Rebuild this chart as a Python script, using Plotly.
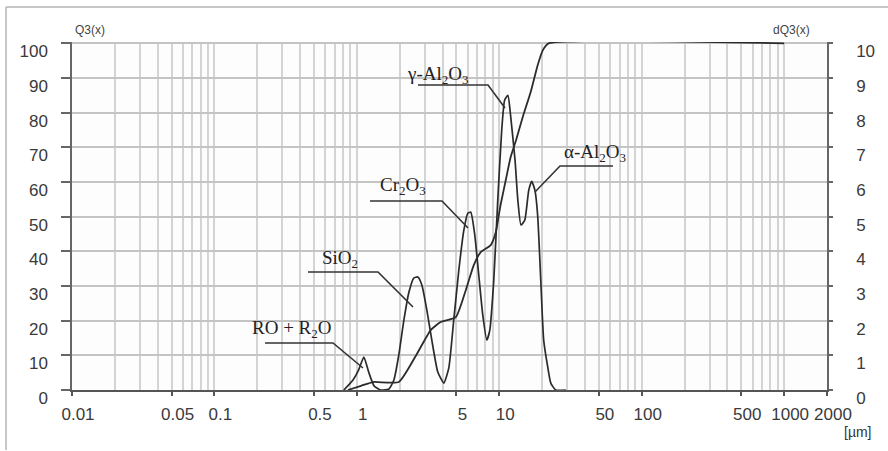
import plotly.graph_objects as go

# Particle size (µm) and cumulative distribution Q3 (%)
size_cum = [0.865, 1.07, 1.30, 1.97, 2.59, 3.30, 3.88, 4.95, 5.82, 6.62, 7.41, 8.71,
            9.45, 10.2, 11.1, 12.0, 13.1, 14.6, 16.6, 18.6, 20.2, 22.2, 1000]
q3_cum = [0, 1.2, 2.3, 2.3, 9.8, 17.3, 19.6, 21.0, 28.8, 36.0, 39.8, 41.8,
          45.5, 53.3, 60.5, 67.1, 72.0, 78.7, 85.9, 93.7, 98.0, 100, 100]

# Particle size (µm) and density distribution dQ3
size_dens = [0.81, 0.94, 1.03, 1.12, 1.21, 1.32, 1.47, 1.68, 1.82, 1.97,
             2.14, 2.32, 2.51, 2.68, 2.86, 3.10, 3.36, 3.70, 4.08, 4.42,
             4.79, 5.20, 5.64, 6.01, 6.31, 6.73, 7.18, 7.66, 8.18, 8.58,
             9.15, 9.76, 10.4, 10.9, 11.5, 12.0, 12.9, 13.5, 14.2, 15.1,
             16.1, 16.9, 17.8, 18.6, 19.6, 20.5, 21.9, 23.0, 24.9, 29.3]
dq3 = [0, 0.29, 0.58, 0.95, 0.52, 0.12, 0, 0.03, 0.29, 1.01,
       2.02, 2.82, 3.23, 3.26, 3.03, 2.31, 1.44, 0.52, 0.2, 0.63,
       2.02, 3.46, 4.61, 5.10, 5.13, 4.47, 3.31, 2.16, 1.44, 1.73,
       3.17, 5.48, 7.49, 8.36, 8.50, 7.93, 6.63, 5.48, 4.76, 4.90,
       5.76, 6.02, 5.76, 5.04, 3.08, 1.44, 0.66, 0.2, 0, 0]

# Axis ticks
x_tickvals = [0.01, 0.05, 0.1, 0.5, 1, 5, 10, 50, 100, 500, 1000, 2000]
x_ticktext = ["0.01", "0.05", "0.1", "0.5", "1", "5", "10", "50", "100", "500", "1000", "2000"]
x_gridvals = [m * 10 ** e for e in range(-2, 4) for m in range(1, 10) if m * 10 ** e <= 2000]
y_left_ticks = list(range(0, 101, 10))
y_right_ticks = list(range(0, 11))

W, H = 888, 451
L, R, T, B = 72, 61, 42, 61
PW, PH = W - L - R, H - T - B
# a little headroom above 100 % so the plateau of the cumulative curve is not clipped
Y_TOP = 100.4


def paper(px, py):
    """Convert a page position in pixels to paper coordinates."""
    return (px - L) / PW, (H - B - py) / PH


def sub(s):
    return f"<sub><span style='font-size:13px'>{s}</span></sub>"


LINE = "#2b2b2b"
fig = go.Figure()
fig.add_trace(go.Scatter(x=size_cum, y=q3_cum, mode="lines", yaxis="y",
                         line=dict(color=LINE, width=1.8, shape="spline", smoothing=0.5),
                         showlegend=False, hoverinfo="skip"))
fig.add_trace(go.Scatter(x=size_dens, y=dq3, mode="lines", yaxis="y2",
                         line=dict(color=LINE, width=1.7, shape="spline", smoothing=0.5),
                         showlegend=False, hoverinfo="skip"))

# Component labels with leader lines
NB = "\u00a0"
labels = [
    (f"RO{NB}+{NB}R{sub(2)}O", (292, 329), [(265, 343), (333, 343), (363, 368)]),
    (f"SiO{sub(2)}", (340, 259), [(308, 272), (378, 272), (413, 307)]),
    (f"Cr{sub(2)}O{sub(3)}", (403, 186), [(370, 201), (442, 201), (468, 228)]),
    (f"γ-Al{sub(2)}O{sub(3)}", (437, 75), [(418, 85), (488, 85), (505, 108)]),
    (f"α-Al{sub(2)}O{sub(3)}", (595, 153), [(613, 166), (560, 166), (535, 192)]),
]
annotations = []
shapes = []
for text, (cx, cy), pts in labels:
    ax_, ay_ = paper(cx, cy)
    annotations.append(dict(text=text, x=ax_, y=ay_, xref="paper", yref="paper",
                            showarrow=False, xanchor="center", yanchor="middle",
                            font=dict(family="Liberation Serif", size=19, color="#222")))
    path = ""
    for i, (px, py) in enumerate(pts):
        qx, qy = paper(px, py)
        path += ("M" if i == 0 else "L") + f"{qx},{qy} "
    shapes.append(dict(type="path", path=path.strip(), xref="paper", yref="paper",
                       line=dict(color="#333", width=1.6)))

# Axis captions
for text, px, anchor in [("Q3(x)", 73, "left"), ("dQ3(x)", 812, "right")]:
    qx, qy = paper(px, 30)
    annotations.append(dict(text=text, x=qx, y=qy, xref="paper", yref="paper",
                            showarrow=False, xanchor=anchor, yanchor="middle",
                            font=dict(family="Liberation Sans", size=12, color="#444")))
qx, qy = paper(858, 432)
annotations.append(dict(text="[µm]", x=qx, y=qy, xref="paper", yref="paper",
                        showarrow=False, xanchor="center", yanchor="middle",
                        font=dict(family="Liberation Sans", size=14, color="#333")))

# Outer frame (top and left edges)
fx0, fy0 = paper(6, 450)
fx1, fy1 = paper(888, 7)
shapes.append(dict(type="line", xref="paper", yref="paper", x0=fx0, x1=fx1, y0=fy1, y1=fy1,
                   line=dict(color="#b5b5b5", width=1.5)))
shapes.append(dict(type="line", xref="paper", yref="paper", x0=fx0, x1=fx0, y0=fy0, y1=fy1,
                   line=dict(color="#b5b5b5", width=1.5)))

tick_font = dict(family="Liberation Sans", size=17, color="#3a3a3a")
GRID = "#d4d4d4"

fig.update_layout(
    width=W, height=H, autosize=False,
    margin=dict(l=L, r=R, t=T, b=B, pad=0),
    paper_bgcolor="white", plot_bgcolor="#fdfdfd",
    font=tick_font,
    xaxis=dict(type="log", range=[-2, 3.30103], tickmode="array",
               tickvals=x_tickvals, ticktext=x_ticktext,
               ticks="outside", ticklen=4, tickwidth=2, tickcolor="#555",
               ticklabelshift=6, ticklabelstandoff=4,
               showgrid=True, gridcolor=GRID, gridwidth=1.5,
               minor=dict(tickmode="array", tickvals=x_gridvals, showgrid=True,
                          gridcolor=GRID, gridwidth=1.5, ticks=""),
               showline=True, linecolor="#555", linewidth=2, zeroline=False,
               tickfont=tick_font),
    yaxis=dict(range=[0, Y_TOP], tickmode="array", tickvals=y_left_ticks,
               ticks="outside", ticklen=9, tickwidth=1.5, tickcolor="#666",
               ticklabelshift=8, ticklabelstandoff=10,
               showgrid=True, gridcolor="#c4c4c4", gridwidth=1.5,
               showline=True, linecolor="#666", linewidth=1.5, zeroline=False,
               tickfont=tick_font),
    yaxis2=dict(range=[0, Y_TOP / 10], overlaying="y", side="right", tickmode="array",
                tickvals=y_right_ticks, ticks="outside", ticklen=4, tickwidth=1.5,
                tickcolor="#666", ticklabelshift=8, ticklabelstandoff=20,
                showgrid=False, showline=True, linecolor="#666", linewidth=1.5,
                zeroline=False, tickfont=tick_font),
    annotations=annotations,
    shapes=shapes,
    showlegend=False,
)

fig.write_html("out.html")
